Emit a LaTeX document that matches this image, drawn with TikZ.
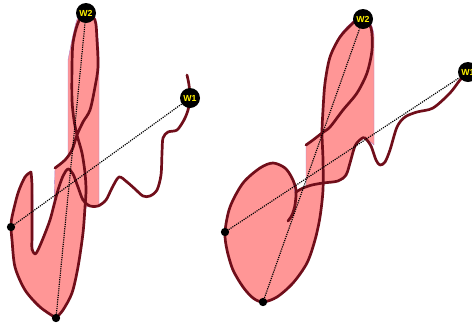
\documentclass[tikz,border=0pt]{standalone}
\usepackage{fontspec}
\setsansfont{Liberation Sans}
\usepackage{xcolor}
\usepackage{tikz}
\usetikzlibrary{positioning}
\definecolor{sigred}{RGB}{112,14,26}
\definecolor{sigpink}{RGB}{255,150,150}
\definecolor{sigedge}{RGB}{170,120,200}
\begin{document}
\begin{tikzpicture}[x=.03cm,y=-.03cm,line cap=round,line join=round,
  ink/.style={draw=sigred,line width=2.3pt},
  wash/.style={fill=sigpink,draw=sigedge,line width=.3pt},
  probe/.style={draw=black,line width=1pt,line cap=butt,dash pattern=on 1pt off .9pt},
  wdisc/.style={circle,fill=black,inner sep=0pt,minimum size=.6cm,text=yellow,
    font=\sffamily\bfseries\fontsize{7.5}{7.5}\selectfont},
  spot/.style={circle,fill=black,inner sep=0pt,minimum size=.25cm}]
\useasboundingbox (0,0) rectangle (472,326);
% Left signature: filled area.
\path[wash] plot[smooth] coordinates {(56,318) (63,310) (72,293) (78,267) (83,233) (85,207)}
  -- (99,206) -- (99,50)
  -- plot[smooth] coordinates {(99,50) (97,30) (93,17) (86,9) (78,17) (73,35) (69,55)}
  -- (68,60) -- (68,157)
  -- plot[smooth] coordinates {(68,157) (62,163) (55,168)}
  -- (54,205)
  -- plot[smooth] coordinates {(54,205) (50,220) (45,233) (38,250) (34,253)}
  -- plot[smooth] coordinates {(33,253) (33,233) (33,200) (32,180) (31,172)}
  -- plot[smooth] coordinates {(31,172) (25,177) (18,193) (12,217) (11,227) (12,240) (15,267) (25,290) (40,307) (56,318)}
  -- cycle;
% Left signature: pen stroke.
\draw[ink] plot[smooth] coordinates {(187,75) (189,85) (190,98) (188,110) (184,120) (177,130)
  (168,132) (163,138) (162,153) (161,175) (157,190) (150,196) (143,196) (135,189)
  (127,182) (119,177) (112,188) (106,200) (98,206) (90,206) (83,200) (78,187) (73,174)
  (68,169) (63,176) (58,190) (54,205) (50,220) (44,236) (38,250) (35,254) (32,249)
  (32,235) (32,210) (32,185) (31,172)};
\draw[ink] plot[smooth] coordinates {(31,172) (25,177) (18,193) (12,217) (11,227) (12,240)
  (15,267) (25,290) (40,307) (56,318)};
\draw[ink] plot[smooth] coordinates {(56,318) (63,310) (72,293) (78,267) (83,233) (85,207)
  (86,190) (85,173) (82,153) (77,135) (74,120) (72,100) (72,67) (73,43) (78,23) (86,12)
  (95,20) (97,40) (98,67) (95,87) (90,110) (83,122) (77,135) (72,150) (65,160) (55,168)};
% Right signature: filled area.
\path[wash] plot[smooth] coordinates {(263,302) (277,297) (293,283) (307,263) (315,240) (320,217) (323,190) (323,183)}
  -- plot[smooth] coordinates {(323,183) (338,181) (346,175) (350,163) (355,146) (361,139) (365,138) (374,145)}
  -- (374,35)
  -- plot[smooth] coordinates {(374,35) (371,24) (362,15) (353,21) (340,35) (330,57) (325,83) (322,133)}
  -- plot[smooth] coordinates {(322,133) (313,140) (306,145)}
  -- (306,187)
  -- plot[smooth] coordinates {(306,187) (300,189) (295,193)}
  -- plot[smooth] coordinates {(295,193) (292,178) (285,168) (273,163) (260,168) (243,183) (230,207)
     (225,232) (227,250) (233,270) (243,287) (253,298) (263,302)}
  -- cycle;
% Right signature: pen stroke.
\draw[ink] plot[smooth] coordinates {(306,145) (313,140) (322,133) (330,127) (343,110) (357,93)
  (367,73) (372,50) (371,28) (362,16) (353,23) (340,37) (330,57) (325,83) (323,110)
  (322,133) (323,160) (323,190) (320,217) (315,240) (307,263) (293,283) (277,297)
  (263,302) (253,298) (243,287) (233,270) (227,250) (225,232) (230,207) (243,183)
  (260,168) (273,163) (285,168) (292,178) (296,190) (295,205) (292,215) (288,221)};
\draw[ink] plot[smooth] coordinates {(296,192) (303,188) (312,185) (323,183) (338,181) (346,175)
  (350,163) (355,146) (361,139) (365,138) (371,146) (376,160) (380,165) (385,162)
  (390,150) (397,127) (405,117) (417,112) (433,108) (450,93) (460,80) (468,72)};
% Points on the strokes.
\node[wdisc] (wtwoL) at (86,13) {W2};
\node[wdisc] (woneL) at (190,98) {W1};
\node[spot] (lftL) at (11,227) {};
\node[spot] (botL) at (56,318) {};
\node[wdisc] (wtwoR) at (363,19) {W2};
\node[wdisc] (woneR) at (468,72) {W1};
\node[spot] (lftR) at (225,232) {};
\node[spot] (botR) at (263,302) {};
\draw[probe] (lftL) -- (woneL);
\draw[probe] (botL) -- (wtwoL);
\draw[probe] (lftR) -- (woneR);
\draw[probe] (botR) -- (wtwoR);
\end{tikzpicture}
\end{document}
